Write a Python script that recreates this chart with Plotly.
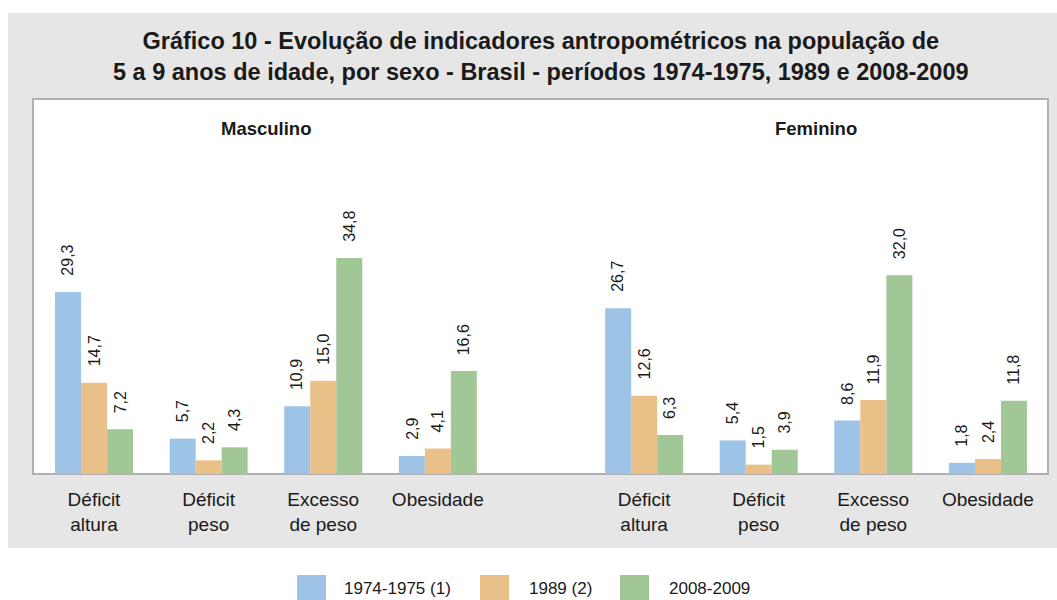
import plotly.graph_objects as go

# ---- data ----
categories = ["Déficit<br>altura", "Déficit<br>peso", "Excesso<br>de peso", "Obesidade"]
sexes = ["Masculino", "Feminino"]
series_names = ["1974-1975 (1)", "1989 (2)", "2008-2009"]
masc_1974 = [29.3, 5.7, 10.9, 2.9]
masc_1989 = [14.7, 2.2, 15.0, 4.1]
masc_2008 = [7.2, 4.3, 34.8, 16.6]
fem_1974 = [26.7, 5.4, 8.6, 1.8]
fem_1989 = [12.6, 1.5, 11.9, 2.4]
fem_2008 = [6.3, 3.9, 32.0, 11.8]

colors = ["#9dc3e6", "#eac089", "#a2c797"]
title_text = ("Gráfico 10 - Evolução de indicadores antropométricos na população de<br>"
              "5 a 9 anos de idade, por sexo - Brasil - períodos 1974-1975, 1989 e 2008-2009")

# ---- layout geometry (pixels) ----
W, H = 1057, 600
PL, PR, PT, PB = 33, 1048, 99, 474
pw, ph = PR - PL, PB - PT


def px(x):
    return (x - PL) / pw


def py(y):
    return (PB - y) / ph


# positions of categories: two groups separated by a gap
positions = [0, 1, 2, 3, 4.8, 5.8, 6.8, 7.8]
unit = 114.6
x_range = [(PL - 94) / unit, (PL - 94) / unit + pw / unit]
bar_w = 0.227
offsets = [-0.34, -0.34 + bar_w, -0.34 + 2 * bar_w]

values = [masc_1974 + fem_1974, masc_1989 + fem_1989, masc_2008 + fem_2008]

FONT = "Liberation Sans, Arial"
fig = go.Figure()
annotations = []
for i, (name, vals) in enumerate(zip(series_names, values)):
    fig.add_trace(go.Bar(
        x=positions, y=vals, name=name, width=bar_w, offset=offsets[i],
        marker=dict(color=colors[i], line=dict(width=0)), showlegend=False,
    ))
    for p, v in zip(positions, vals):
        annotations.append(dict(
            x=p + offsets[i] + bar_w / 2, y=v, xref="x", yref="y",
            text=f"{v:.1f}".replace(".", ","), showarrow=False,
            textangle=-90, xanchor="center", yanchor="bottom", yshift=14,
            font=dict(family=FONT, size=16, color="#1a1a1a"),
        ))

# group subtitles
for s, grp in zip(sexes, [positions[:4], positions[4:]]):
    annotations.append(dict(
        x=(grp[0] + grp[-1]) / 2, y=py(128), xref="x", yref="paper",
        text=f"<b>{s}</b>", showarrow=False, xanchor="center", yanchor="middle",
        font=dict(family=FONT, size=18.5, color="#1a1a1a"),
    ))

# title
annotations.append(dict(
    x=px(541), y=py(57), xref="paper", yref="paper", text=f"<b>{title_text}</b>",
    showarrow=False, xanchor="center", yanchor="middle",
    font=dict(family=FONT, size=23.5, color="#1a1a1a"),
))

shapes = [
    dict(type="rect", xref="paper", yref="paper", x0=px(8), x1=px(1057), y0=py(548), y1=py(13),
         fillcolor="#e6e6e6", line=dict(width=0), layer="below"),
    dict(type="rect", xref="paper", yref="paper", x0=0, x1=1, y0=0, y1=1,
         fillcolor="white", line=dict(color="#b0b0b0", width=2), layer="below"),
]

# manual legend
leg_sq = [297, 480, 620]
leg_tx = [342, 527, 667]
for i, name in enumerate(series_names):
    shapes.append(dict(type="rect", xref="paper", yref="paper",
                       x0=px(leg_sq[i]), x1=px(leg_sq[i] + 29), y0=py(600), y1=py(575),
                       fillcolor=colors[i], line=dict(width=0)))
    annotations.append(dict(
        x=px(leg_tx[i]), y=py(588), xref="paper", yref="paper", text=name,
        showarrow=False, xanchor="left", yanchor="middle",
        font=dict(family=FONT, size=17, color="#1a1a1a"),
    ))

fig.update_layout(
    width=W, height=H,
    margin=dict(l=PL, r=W - PR, t=PT, b=H - PB, pad=0),
    paper_bgcolor="white", plot_bgcolor="rgba(0,0,0,0)",
    barmode="overlay",
    shapes=shapes, annotations=annotations,
    xaxis=dict(range=x_range, tickvals=positions, ticktext=categories * 2,
               showgrid=False, zeroline=False, showline=False, ticks="",
               ticklabelstandoff=12,
               tickfont=dict(family=FONT, size=19, color="#1a1a1a")),
    yaxis=dict(range=[0, 60.4], visible=False, showgrid=False, zeroline=False),
)

fig.write_html("out.html", config={"displayModeBar": False},
               post_script="document.body.style.margin='0';document.body.style.padding='0';")
